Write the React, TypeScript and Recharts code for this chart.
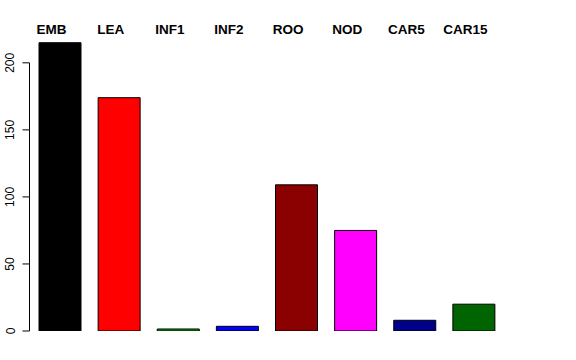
import { BarChart, Bar, Cell, XAxis, YAxis } from "recharts";

const categories = ["EMB", "LEA", "INF1", "INF2", "ROO", "NOD", "CAR5", "CAR15"];
const counts = [215, 174, 1.5, 3.5, 109, 75, 8, 20];
const barColors = ["#000000", "#ff0000", "#00aa00", "#0000ff", "#8b0000", "#ff00ff", "#00008b", "#006400"];
const yTicks = [0, 50, 100, 150, 200];

const data = categories.map((name, i) => ({ name, value: counts[i] }));

const W = 576;
const H = 360;
const MARGIN = { top: 35, right: 73, bottom: 29, left: 0 };
const Y_MAX = 220;
// pixel distance between two y ticks, used to draw R-style axis line
const TICK_STEP = ((H - 36 - MARGIN.bottom) * 50) / Y_MAX;

const YTick = (props: any) => {
  const { x, y, payload, index } = props;
  const ax = x - 0.5;
  return (
    <g>
      <line x1={ax - 7} y1={y} x2={ax} y2={y} stroke="#000" strokeWidth={1} />
      {index < yTicks.length - 1 && (
        <line x1={ax} y1={y} x2={ax} y2={y - TICK_STEP} stroke="#000" strokeWidth={1} />
      )}
      <text
        x={ax - 15}
        y={y}
        transform={`rotate(-90, ${ax - 15}, ${y})`}
        textAnchor="middle"
        fontSize={12}
        fontFamily="Liberation Sans, Arial, sans-serif"
        fill="#000"
      >
        {payload.value}
      </text>
    </g>
  );
};

const TopLabel = (props: any) => {
  const { x, payload } = props;
  return (
    <text
      x={x - 8}
      y={34}
      textAnchor="middle"
      fontSize={13.5}
      fontWeight="bold"
      fontFamily="Liberation Sans, Arial, sans-serif"
      fill="#000"
    >
      {payload.value}
    </text>
  );
};

export default function App() {
  return (
    <div style={{ position: "absolute", left: 0, top: 0, background: "#fff" }}>
      <BarChart width={W} height={H} data={data} margin={MARGIN}>
        <XAxis
          dataKey="name"
          orientation="top"
          axisLine={false}
          tickLine={false}
          tickSize={0}
          height={1}
          tick={<TopLabel />}
          interval={0}
        />
        <YAxis
          domain={[0, Y_MAX]}
          ticks={yTicks}
          width={30}
          axisLine={false}
          tickLine={false}
          tickSize={0}
          tickMargin={0}
          tick={<YTick />}
          allowDataOverflow
        />
        <Bar dataKey="value" barSize={42} stroke="#000" strokeWidth={1} isAnimationActive={false}>
          {data.map((_, i) => (
            <Cell key={i} fill={barColors[i]} />
          ))}
        </Bar>
      </BarChart>
    </div>
  );
}
